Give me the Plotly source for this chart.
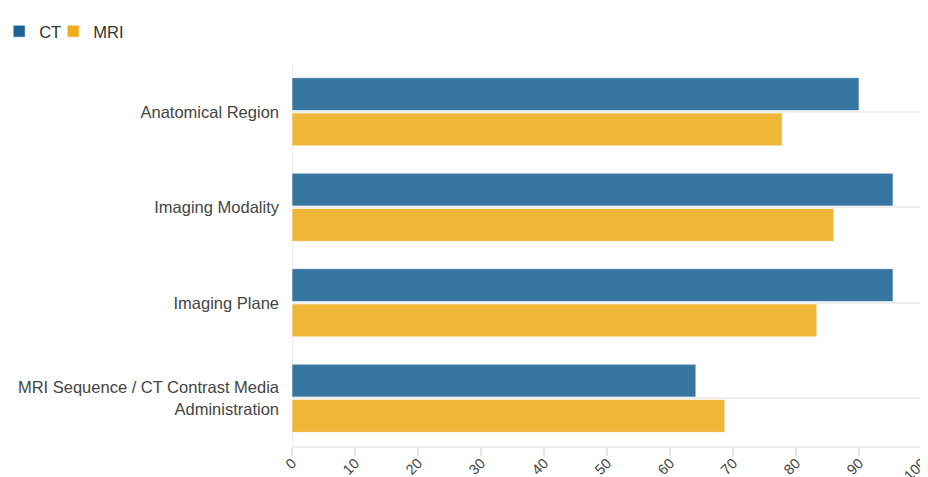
import plotly.graph_objects as go

categories = ["Anatomical Region", "Imaging Modality", "Imaging Plane",
              "MRI Sequence / CT Contrast Media<br>Administration"]
ct_values = [90.0, 95.4, 95.4, 64.1]
mri_values = [77.8, 86.0, 83.3, 68.7]
x_ticks = [0, 10, 20, 30, 40, 50, 60, 70, 80, 90, 100]

fig = go.Figure()
fig.add_trace(go.Bar(name="CT", y=categories, x=ct_values, orientation="h",
                     legend="legend",
                     marker=dict(color="#1d6496", opacity=0.88,
                                 line=dict(color="rgba(255,255,255,0.6)", width=1))))
fig.add_trace(go.Bar(name="MRI", y=categories, x=mri_values, orientation="h",
                     legend="legend2",
                     marker=dict(color="#eeac1c", opacity=0.88,
                                 line=dict(color="rgba(255,255,255,0.6)", width=1))))

legend_style = dict(orientation="h", xanchor="left", y=1.131, yanchor="top",
                    font=dict(size=16.5, color="#333"), itemwidth=30,
                    tracegroupgap=0, bgcolor="rgba(0,0,0,0)")

fig.update_layout(
    width=920, height=469,
    barmode="group", bargap=0.26, bargroupgap=0.07,
    margin=dict(l=284, r=6, t=56, b=31, autoexpand=False),
    plot_bgcolor="white", paper_bgcolor="white",
    font=dict(family="Liberation Sans, Arial, sans-serif", size=16.5, color="#444"),
    showlegend=True,
    legend=dict(x=-0.4648, **legend_style),
    legend2=dict(x=-0.379, **legend_style),
    xaxis=dict(range=[0, 100], tickvals=x_ticks, tickangle=-45, showgrid=False,
               zeroline=False, showline=True, linecolor="#eeeeee", linewidth=2,
               ticks="outside", ticklen=8, tickcolor="#e6e6e6", tickwidth=2,
               ticklabelstandoff=-7, ticklabeloverflow="allow",
               automargin=False, tickfont=dict(size=14.5, color="#444")),
    yaxis=dict(autorange="reversed", showgrid=True, gridcolor="#eeeeee", gridwidth=2,
               showline=False, ticks="", ticklabelstandoff=12, automargin=False,
               tickfont=dict(size=16.5, color="#444")),
)
fig.add_shape(type="line", xref="x", yref="paper", x0=0, x1=0, y0=0, y1=1,
              line=dict(color="#eeeeee", width=2), layer="below")

fig.write_html("out.html")
